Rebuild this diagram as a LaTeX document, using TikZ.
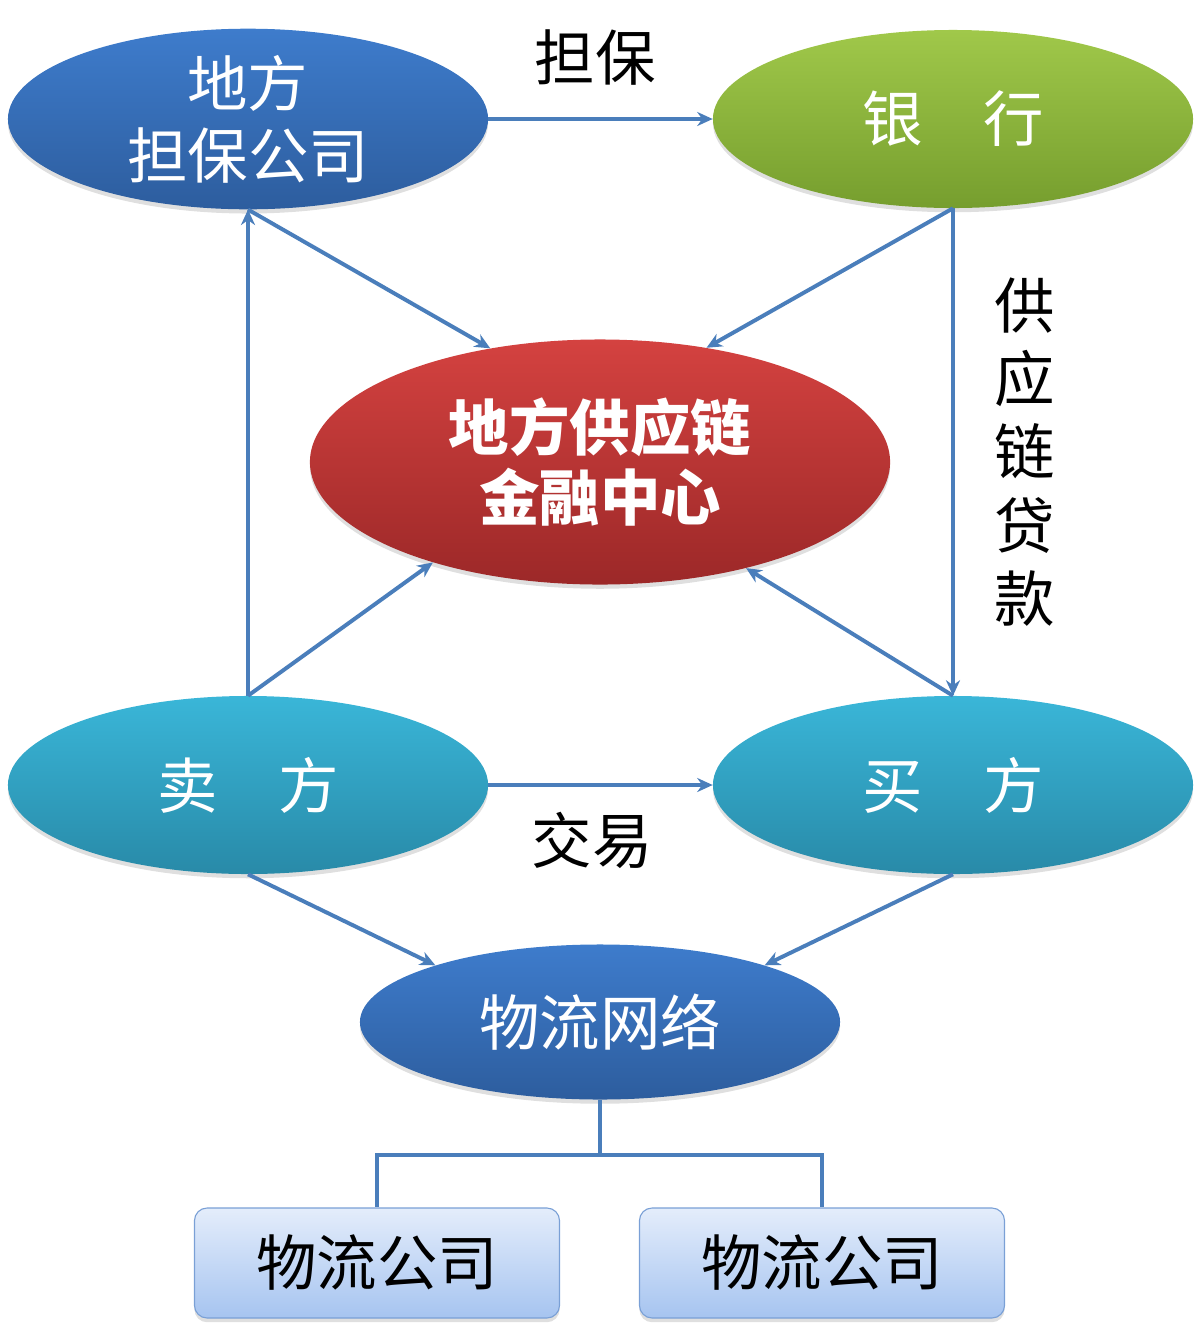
\documentclass[tikz,border=0pt]{standalone}
\usepackage{fontspec}
\setmainfont{Noto Sans CJK SC}
\usetikzlibrary{arrows.meta,shapes.geometric,shadows}
\definecolor{linkblue}{HTML}{4A7EBB}
\tikzset{
  oval/.style={ellipse, inner sep=0pt, minimum width=12cm, minimum height=4.45cm,
               align=center, text=white, font=\fontsize{43}{51}\selectfont,
               drop shadow={shadow xshift=0pt, shadow yshift=-3pt, opacity=0.25}},
  deepblue/.style={oval, top color={rgb,255:red,62;green,124;blue,204}, bottom color={rgb,255:red,45;green,93;blue,158}},
  bank/.style={oval, top color={rgb,255:red,160;green,200;blue,74}, bottom color={rgb,255:red,118;green,158;blue,46}},
  center/.style={oval, minimum width=14.5cm, minimum height=6.125cm, font=\fontsize{43}{50}\selectfont\bfseries,
                 top color={rgb,255:red,212;green,66;blue,64}, bottom color={rgb,255:red,156;green,40;blue,40}},
  trader/.style={oval, top color={rgb,255:red,58;green,182;blue,216}, bottom color={rgb,255:red,40;green,138;blue,168}},
  firm/.style={draw={rgb,255:red,122;green,160;blue,214}, thick, rounded corners=9pt, minimum width=9.125cm,
               minimum height=2.75cm, font=\fontsize{43}{51}\selectfont,
               top color={rgb,255:red,228;green,237;blue,251}, bottom color={rgb,255:red,166;green,196;blue,240},
               drop shadow={shadow xshift=0pt, shadow yshift=-3pt, opacity=0.25}},
  tag/.style={font=\fontsize{43}{52}\selectfont, align=center},
  arrow/.style={-{Stealth[length=11pt,width=10pt]}, line width=2.8pt, draw=linkblue},
  link/.style={line width=2.8pt, draw=linkblue}
}
\begin{document}
\begin{tikzpicture}[x=0.025cm, y=-0.025cm]
  \useasboundingbox (0,0) rectangle (1202,1331);
  \node[deepblue] (dbgs) at (248,119) {地方\\担保公司};
  \node[bank] (yh) at (953,119) {银\quad 行};
  \node[center] (jrzx) at (600,462) {地方供应链\\金融中心};
  \node[trader] (mf) at (248,785) {卖\quad 方};
  \node[trader] (buy) at (953,785) {买\quad 方};
  \node[deepblue, minimum height=3.875cm] (wlwl) at (600,1022) {物流网络};
  \node[firm] (gs1) at (377,1263) {物流公司};
  \node[firm] (gs2) at (822,1263) {物流公司};
  \node[tag] (db) at (595,58) {担保};
  \node[tag] (jy) at (592,840) {交易};
  \node[tag] (dk) at (1025,452) {供\\应\\链\\贷\\款};
  \draw[arrow] (dbgs) -- (yh);
  \draw[arrow] (dbgs.south) -- (jrzx.134);
  \draw[arrow] (yh.south) -- (jrzx.47);
  \draw[arrow] (yh.south) -- (buy.north);
  \draw[arrow] (mf.north) -- (dbgs.south);
  \draw[arrow] (mf.north) -- (jrzx.211);
  \draw[arrow] (buy.north) -- (jrzx.324);
  \draw[arrow] (mf) -- (buy);
  \draw[arrow] (mf.south) -- (wlwl.161);
  \draw[arrow] (buy.south) -- (wlwl.19);
  \draw[link] (wlwl.south) -- ++(0,55) coordinate (fork) -| (gs1.north);
  \draw[link] (fork) -| (gs2.north);
\end{tikzpicture}
\end{document}
